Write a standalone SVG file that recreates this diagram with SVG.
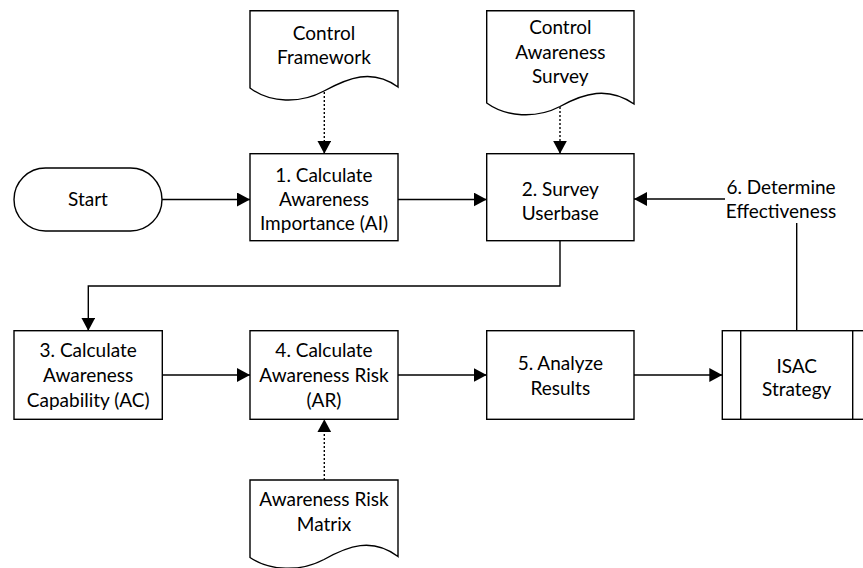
<svg xmlns="http://www.w3.org/2000/svg" width="863" height="568" viewBox="0 0 863 568">
<defs>
<marker id="arr" markerUnits="userSpaceOnUse" markerWidth="14" markerHeight="14" refX="13" refY="7" orient="auto">
<path d="M0,0 L13,7 L0,14 Z" fill="#000"/>
</marker>
<style>
.shape{fill:#fff;stroke:#000;stroke-width:1.4}
.line{fill:none;stroke:#000;stroke-width:1.4}
.dot{fill:none;stroke:#000;stroke-width:1.4;stroke-dasharray:2,2}
text{font-family:"Lato","Liberation Sans",sans-serif;font-size:19px;fill:#000;text-anchor:middle}
</style>
</defs>
<rect width="863" height="568" fill="#fff"/>
<g id="connectors">
<path class="line" d="M162,199.5 H250" marker-end="url(#arr)"/>
<path class="line" d="M398,199.5 H486.7" marker-end="url(#arr)"/>
<path class="line" d="M725,199 H634" marker-end="url(#arr)"/>
<path class="line" d="M796.7,223 V330.7"/>
<path class="line" d="M560,241 V286 H88.3 V330.7" marker-end="url(#arr)"/>
<path class="line" d="M162.3,375 H250" marker-end="url(#arr)"/>
<path class="line" d="M398,375 H486.7" marker-end="url(#arr)"/>
<path class="line" d="M634,375 H722.3" marker-end="url(#arr)"/>
<path class="dot" d="M324.3,92 V153.7" marker-end="url(#arr)"/>
<path class="dot" d="M560,107 V153.7" marker-end="url(#arr)"/>
<path class="dot" d="M324.3,480 V419.3" marker-end="url(#arr)"/>
</g>
<g id="start">
<rect class="shape" x="14" y="168" width="148" height="63" rx="31.5" ry="31.5"/>
<text x="88" y="206">Start</text>
</g>
<g id="doc-control-framework">
<path class="shape" d="M250,10.7 H398 V87 C372,68 348,78 324,91 C300,104 270,103 250,88 Z"/>
<text x="324" y="39.5">Control</text>
<text x="324" y="63.5">Framework</text>
</g>
<g id="doc-control-awareness-survey">
<path class="shape" d="M486.7,10.7 H634 V104 C608,86 584,93 560,106.5 C536,119 506,117 486.7,103 Z"/>
<text x="560.3" y="34">Control</text>
<text x="560.3" y="58.5">Awareness</text>
<text x="560.3" y="83">Survey</text>
</g>
<g id="step1">
<rect class="shape" x="250" y="153.7" width="148" height="87"/>
<text x="324" y="181.7">1. Calculate</text>
<text x="324" y="206">Awareness</text>
<text x="324" y="230">Importance (AI)</text>
</g>
<g id="step2">
<rect class="shape" x="486.7" y="153.7" width="147.3" height="87"/>
<text x="560.3" y="196">2. Survey</text>
<text x="560.3" y="219.5">Userbase</text>
</g>
<g id="step6">
<text x="781" y="193.5">6. Determine</text>
<text x="781" y="218">Effectiveness</text>
</g>
<g id="step3">
<rect class="shape" x="14" y="330.7" width="148.3" height="88.6"/>
<text x="88.2" y="357.3">3. Calculate</text>
<text x="88.2" y="382.3">Awareness</text>
<text x="88.2" y="407.3">Capability (AC)</text>
</g>
<g id="step4">
<rect class="shape" x="250" y="330.7" width="148" height="88.6"/>
<text x="324" y="357.3">4. Calculate</text>
<text x="324" y="382.3">Awareness Risk</text>
<text x="324" y="407.3">(AR)</text>
</g>
<g id="step5">
<rect class="shape" x="486.7" y="330.7" width="147.3" height="88.6"/>
<text x="560.3" y="370">5. Analyze</text>
<text x="560.3" y="395">Results</text>
</g>
<g id="isac-strategy">
<rect class="shape" x="722.3" y="330.7" width="148.7" height="88.6"/>
<path class="line" d="M740.7,330.7 V419.3 M852.7,330.7 V419.3"/>
<text x="796.7" y="372.5">ISAC</text>
<text x="796.7" y="396">Strategy</text>
</g>
<g id="doc-awareness-risk-matrix">
<path class="shape" d="M250,480 H398 V556.5 C372,537 348,546 324,559.5 C300,572 270,571 250,557.5 Z"/>
<text x="324" y="506">Awareness Risk</text>
<text x="324" y="531">Matrix</text>
</g>
</svg>
